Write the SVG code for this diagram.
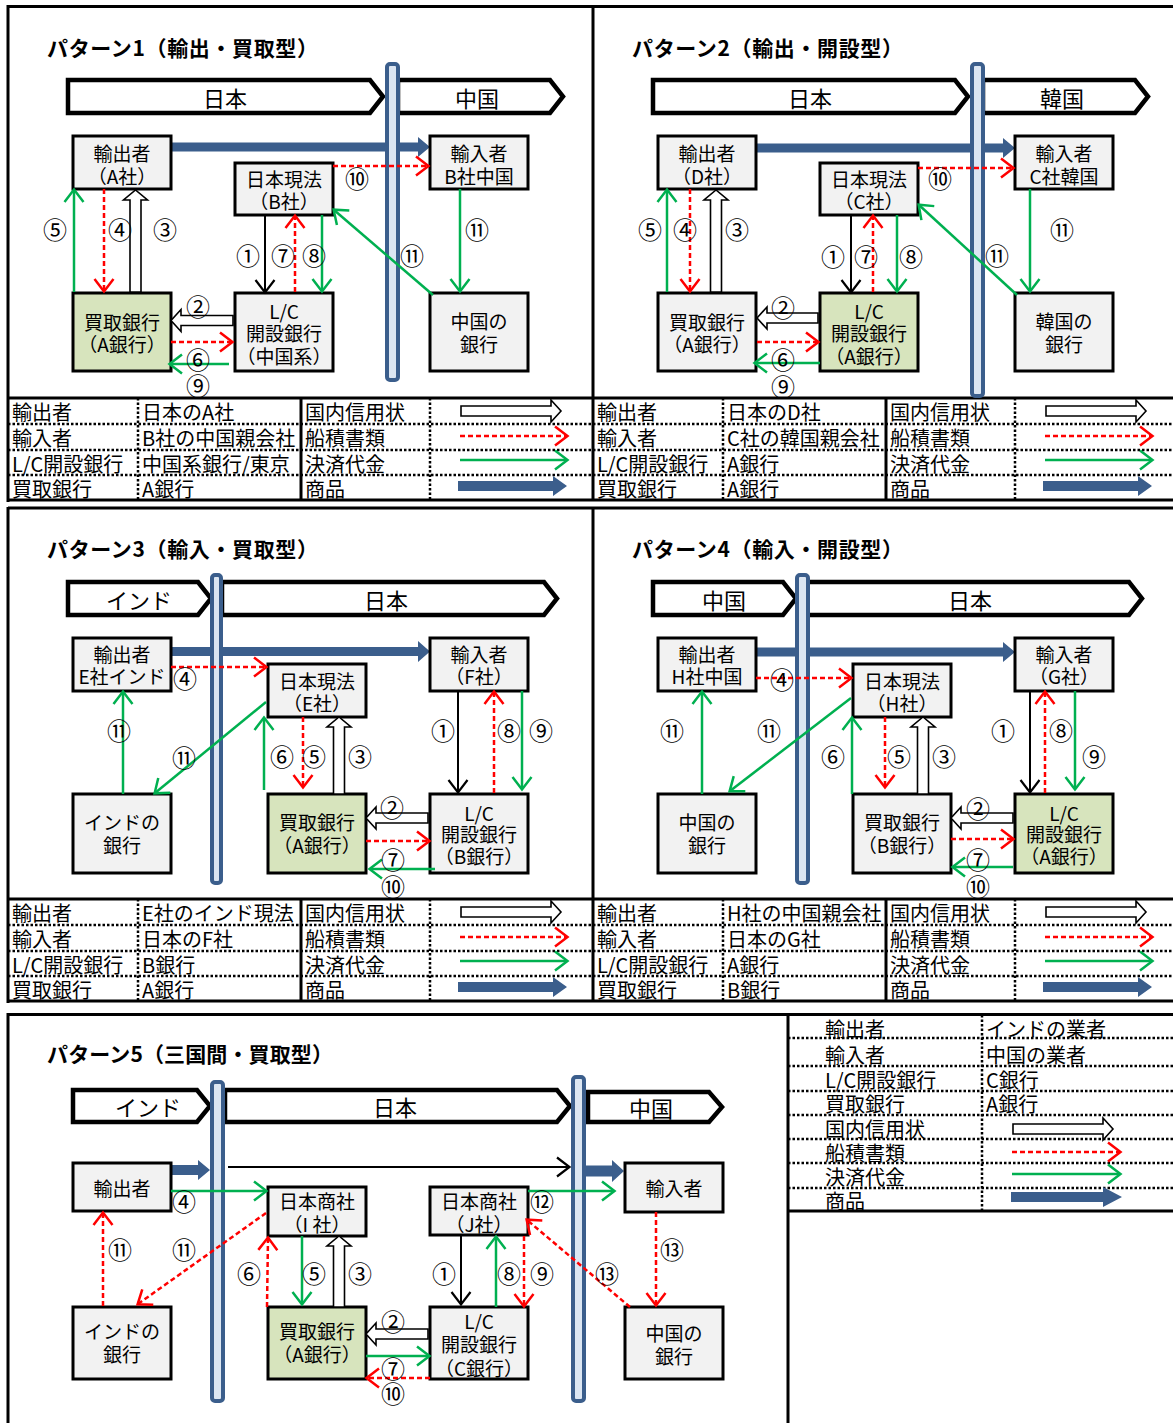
<svg xmlns="http://www.w3.org/2000/svg" width="1173" height="1423" viewBox="0 0 1173 1423">
<style>
.fr{stroke:#000;stroke-width:3;fill:none}
.dt{stroke:#000;stroke-width:2.5;stroke-dasharray:2.5 2;fill:none}
.box{fill:#F2F2F2;stroke:#000;stroke-width:3}
.boxg{fill:#D7E4BD;stroke:#000;stroke-width:3}
.bar{fill:#DCE6F2;stroke:#3B5E8C;stroke-width:4}
.ctry{fill:#fff;stroke:#000;stroke-width:4.5;stroke-linejoin:miter}
.gd{fill:#3B5E8C}
.wa{fill:#fff;stroke:#000;stroke-width:1.6}
.g{stroke:#00B050;stroke-width:2.5;fill:none;marker-end:url(#ag)}
.r{stroke:#FF0000;stroke-width:2.5;stroke-dasharray:5 3;fill:none;marker-end:url(#ar)}
.k{stroke:#000;stroke-width:2;fill:none;marker-end:url(#ak)}
text{font-family:"Noto Sans CJK JP","Liberation Sans",sans-serif;fill:#000;dominant-baseline:central}
.t{font-size:19px;text-anchor:middle}
.c{font-size:22px;text-anchor:middle}
.n{font-size:24px;text-anchor:middle}
.lg{font-size:20px}
.ttl{font-size:21px;font-weight:bold}
</style>
<defs>
<marker id="ag" markerUnits="userSpaceOnUse" markerWidth="20" markerHeight="24" refX="12" refY="9.5" orient="auto" overflow="visible"><path d="M0,0 L12.5,9.5 L0,19" fill="none" stroke="#00B050" stroke-width="2.5"/></marker>
<marker id="ar" markerUnits="userSpaceOnUse" markerWidth="20" markerHeight="24" refX="12" refY="9.5" orient="auto" overflow="visible"><path d="M0,0 L12.5,9.5 L0,19" fill="none" stroke="#FF0000" stroke-width="2.5"/></marker>
<marker id="ak" markerUnits="userSpaceOnUse" markerWidth="20" markerHeight="24" refX="12" refY="9.5" orient="auto" overflow="visible"><path d="M0,0 L12.5,9.5 L0,19" fill="none" stroke="#000" stroke-width="2.2"/></marker>
</defs>
<rect width="1173" height="1423" fill="#fff"/>

<g id="frames">
<line class="fr" x1="8" y1="6.5" x2="1180" y2="6.5"/>
<line class="fr" x1="8" y1="5" x2="8" y2="502"/>
<line class="fr" x1="593" y1="6.5" x2="593" y2="500"/>
<line class="fr" x1="8" y1="500" x2="1180" y2="500"/>
<line class="fr" x1="8" y1="398" x2="1180" y2="398"/>
<line class="dt" x1="8" y1="424" x2="1180" y2="424"/>
<line class="dt" x1="8" y1="450" x2="1180" y2="450"/>
<line class="dt" x1="8" y1="475" x2="1180" y2="475"/>
<line class="dt" x1="138" y1="398" x2="138" y2="500"/>
<line class="dt" x1="430" y1="398" x2="430" y2="500"/>
<line class="dt" x1="723" y1="398" x2="723" y2="500"/>
<line class="dt" x1="1015" y1="398" x2="1015" y2="500"/>
<line class="fr" x1="301" y1="398" x2="301" y2="500"/>
<line class="fr" x1="886" y1="398" x2="886" y2="500"/>

<line class="fr" x1="8" y1="508" x2="1180" y2="508"/>
<line class="fr" x1="8" y1="507" x2="8" y2="1003"/>
<line class="fr" x1="593" y1="508" x2="593" y2="1001"/>
<line class="fr" x1="8" y1="1001" x2="1180" y2="1001"/>
<line class="fr" x1="8" y1="899" x2="1180" y2="899"/>
<line class="dt" x1="8" y1="925" x2="1180" y2="925"/>
<line class="dt" x1="8" y1="951" x2="1180" y2="951"/>
<line class="dt" x1="8" y1="976" x2="1180" y2="976"/>
<line class="dt" x1="138" y1="899" x2="138" y2="1001"/>
<line class="dt" x1="430" y1="899" x2="430" y2="1001"/>
<line class="dt" x1="723" y1="899" x2="723" y2="1001"/>
<line class="dt" x1="1015" y1="899" x2="1015" y2="1001"/>
<line class="fr" x1="301" y1="899" x2="301" y2="1001"/>
<line class="fr" x1="886" y1="899" x2="886" y2="1001"/>

<line class="fr" x1="8" y1="1014.5" x2="1180" y2="1014.5"/>
<line class="fr" x1="8" y1="1013" x2="8" y2="1430"/>
<line class="fr" x1="788" y1="1014" x2="788" y2="1430"/>
<line class="fr" x1="788" y1="1211" x2="1180" y2="1211"/>
<line class="dt" x1="788" y1="1038" x2="1180" y2="1038"/>
<line class="dt" x1="788" y1="1066" x2="1180" y2="1066"/>
<line class="dt" x1="788" y1="1091" x2="1180" y2="1091"/>
<line class="dt" x1="788" y1="1115" x2="1180" y2="1115"/>
<line class="dt" x1="788" y1="1139" x2="1180" y2="1139"/>
<line class="dt" x1="788" y1="1163" x2="1180" y2="1163"/>
<line class="dt" x1="788" y1="1188" x2="1180" y2="1188"/>
<line class="dt" x1="982" y1="1015" x2="982" y2="1211"/>
</g>

<g id="titles">
<text class="ttl" x="47" y="47" textLength="271">パターン1（輸出・買取型）</text>
<text class="ttl" x="632" y="47" textLength="271">パターン2（輸出・開設型）</text>
<text class="ttl" x="47" y="548" textLength="271">パターン3（輸入・買取型）</text>
<text class="ttl" x="632" y="548" textLength="271">パターン4（輸入・開設型）</text>
<text class="ttl" x="47" y="1053" textLength="286">パターン5（三国間・買取型）</text>
</g>

<g id="countries">
<polygon class="ctry" points="68,80 370,80 383,96.5 370,113 68,113"/><text class="c" x="225" y="97">日本</text>
<polygon class="ctry" points="398,80 550,80 563,96.5 550,113 398,113"/><text class="c" x="477" y="97">中国</text>
<polygon class="ctry" points="653,80 955,80 968,96.5 955,113 653,113"/><text class="c" x="810" y="97">日本</text>
<polygon class="ctry" points="983,80 1135,80 1148,96.5 1135,113 983,113"/><text class="c" x="1062" y="97">韓国</text>
<polygon class="ctry" points="68,582 198,582 211,598.5 198,615 68,615"/><text class="c" x="139" y="599">インド</text>
<polygon class="ctry" points="222,582 544,582 557,598.5 544,615 222,615"/><text class="c" x="386" y="599">日本</text>
<polygon class="ctry" points="653,582 783,582 796,598.5 783,615 653,615"/><text class="c" x="724" y="599">中国</text>
<polygon class="ctry" points="807,582 1129,582 1142,598.5 1129,615 807,615"/><text class="c" x="970" y="599">日本</text>
<polygon class="ctry" points="73,1090 197,1090 210,1106 197,1122 73,1122"/><text class="c" x="148" y="1106">インド</text>
<polygon class="ctry" points="225,1090 557,1090 570,1106 557,1122 225,1122"/><text class="c" x="395" y="1106">日本</text>
<polygon class="ctry" points="588,1092 709,1092 722,1107 709,1122 588,1122"/><text class="c" x="651" y="1107">中国</text>
</g>

<g id="goods-connectors">
<polygon class="gd" points="170,142.5 418,142.5 418,137 430,147 418,157 418,151.5 170,151.5"/>
<polygon class="gd" points="756,143.5 1003,143.5 1003,138 1015,148 1003,158 1003,152.5 756,152.5"/>
<polygon class="gd" points="171,647 418,647 418,641 430,651.5 418,662 418,656 171,656"/>
<polygon class="gd" points="756,647.5 1003,647.5 1003,642 1015,652 1003,662 1003,656.5 756,656.5"/>
<polygon class="gd" points="168,1165 198,1165 198,1160 210,1170 198,1180 198,1175 168,1175"/>
<polygon class="gd" points="586,1165.5 612,1165.5 612,1160 624,1171 612,1182 612,1176.5 586,1176.5"/>
</g>

<g id="borders">
<rect class="bar" x="387" y="64" width="11" height="316" rx="3"/>
<rect class="bar" x="972" y="64" width="11" height="332" rx="3"/>
<rect class="bar" x="212" y="575" width="9" height="308" rx="3"/>
<rect class="bar" x="797" y="575" width="11" height="308" rx="3"/>
<rect class="bar" x="212" y="1082" width="11" height="319" rx="3"/>
<rect class="bar" x="573" y="1077" width="11" height="324" rx="3"/>
</g>

<!-- Pattern 1 nodes -->
<g id="p1-exporter"><rect class="box" x="73" y="136" width="98" height="53"/><text class="t" x="122" y="152">輸出者<tspan x="122" y="175">（A社）</tspan></text></g>
<g id="p1-subsidiary"><rect class="box" x="235" y="163" width="98" height="52"/><text class="t" x="284" y="178">日本現法<tspan x="284" y="200">（B社）</tspan></text></g>
<g id="p1-importer"><rect class="box" x="430" y="136" width="98" height="53"/><text class="t" x="479" y="152">輸入者<tspan x="479" y="175">B社中国</tspan></text></g>
<g id="p1-buying-bank"><rect class="boxg" x="73" y="293" width="98" height="78"/><text class="t" x="122" y="321">買取銀行<tspan x="122" y="343">（A銀行）</tspan></text></g>
<g id="p1-lc-bank"><rect class="box" x="235" y="293" width="98" height="78"/><text class="t" x="284" y="310">L/C<tspan x="284" y="332">開設銀行</tspan><tspan x="284" y="355">（中国系）</tspan></text></g>
<g id="p1-china-bank"><rect class="box" x="430" y="293" width="98" height="78"/><text class="t" x="479" y="320">中国の<tspan x="479" y="343">銀行</tspan></text></g>

<!-- Pattern 2 nodes -->
<g id="p2-exporter"><rect class="box" x="658" y="136" width="98" height="53"/><text class="t" x="707" y="152">輸出者<tspan x="707" y="175">（D社）</tspan></text></g>
<g id="p2-subsidiary"><rect class="box" x="820" y="163" width="98" height="52"/><text class="t" x="869" y="178">日本現法<tspan x="869" y="200">（C社）</tspan></text></g>
<g id="p2-importer"><rect class="box" x="1015" y="136" width="98" height="53"/><text class="t" x="1064" y="152">輸入者<tspan x="1064" y="175">C社韓国</tspan></text></g>
<g id="p2-buying-bank"><rect class="box" x="658" y="293" width="98" height="78"/><text class="t" x="707" y="321">買取銀行<tspan x="707" y="343">（A銀行）</tspan></text></g>
<g id="p2-lc-bank"><rect class="boxg" x="820" y="293" width="98" height="78"/><text class="t" x="869" y="310">L/C<tspan x="869" y="332">開設銀行</tspan><tspan x="869" y="355">（A銀行）</tspan></text></g>
<g id="p2-korea-bank"><rect class="box" x="1015" y="293" width="98" height="78"/><text class="t" x="1064" y="320">韓国の<tspan x="1064" y="343">銀行</tspan></text></g>

<!-- Pattern 3 nodes -->
<g id="p3-exporter"><rect class="box" x="73" y="638" width="98" height="53"/><text class="t" x="122" y="653">輸出者<tspan x="122" y="675">E社インド</tspan></text></g>
<g id="p3-subsidiary"><rect class="box" x="268" y="664" width="98" height="53"/><text class="t" x="317" y="680">日本現法<tspan x="317" y="702">（E社）</tspan></text></g>
<g id="p3-importer"><rect class="box" x="430" y="638" width="98" height="53"/><text class="t" x="479" y="653">輸入者<tspan x="479" y="675">（F社）</tspan></text></g>
<g id="p3-india-bank"><rect class="box" x="73" y="794" width="98" height="79"/><text class="t" x="122" y="821">インドの<tspan x="122" y="844">銀行</tspan></text></g>
<g id="p3-buying-bank"><rect class="boxg" x="268" y="794" width="98" height="79"/><text class="t" x="317" y="821">買取銀行<tspan x="317" y="844">（A銀行）</tspan></text></g>
<g id="p3-lc-bank"><rect class="box" x="430" y="794" width="98" height="79"/><text class="t" x="479" y="812">L/C<tspan x="479" y="833">開設銀行</tspan><tspan x="479" y="855">（B銀行）</tspan></text></g>

<!-- Pattern 4 nodes -->
<g id="p4-exporter"><rect class="box" x="658" y="638" width="98" height="53"/><text class="t" x="707" y="653">輸出者<tspan x="707" y="675">H社中国</tspan></text></g>
<g id="p4-subsidiary"><rect class="box" x="853" y="664" width="98" height="53"/><text class="t" x="902" y="680">日本現法<tspan x="902" y="702">（H社）</tspan></text></g>
<g id="p4-importer"><rect class="box" x="1015" y="638" width="98" height="53"/><text class="t" x="1064" y="653">輸入者<tspan x="1064" y="675">（G社）</tspan></text></g>
<g id="p4-china-bank"><rect class="box" x="658" y="794" width="98" height="79"/><text class="t" x="707" y="821">中国の<tspan x="707" y="844">銀行</tspan></text></g>
<g id="p4-buying-bank"><rect class="box" x="853" y="794" width="98" height="79"/><text class="t" x="902" y="821">買取銀行<tspan x="902" y="844">（B銀行）</tspan></text></g>
<g id="p4-lc-bank"><rect class="boxg" x="1015" y="794" width="98" height="79"/><text class="t" x="1064" y="812">L/C<tspan x="1064" y="833">開設銀行</tspan><tspan x="1064" y="855">（A銀行）</tspan></text></g>

<!-- Pattern 5 nodes -->
<g id="p5-exporter"><rect class="box" x="73" y="1163" width="98" height="48"/><text class="t" x="122" y="1187">輸出者</text></g>
<g id="p5-trading-i"><rect class="box" x="268" y="1187" width="98" height="49"/><text class="t" x="317" y="1200">日本商社<tspan x="317" y="1223">（I 社）</tspan></text></g>
<g id="p5-trading-j"><rect class="box" x="430" y="1187" width="98" height="48"/><text class="t" x="479" y="1200">日本商社<tspan x="479" y="1223">（J社）</tspan></text></g>
<g id="p5-importer"><rect class="box" x="625" y="1163" width="98" height="49"/><text class="t" x="674" y="1187">輸入者</text></g>
<g id="p5-india-bank"><rect class="box" x="73" y="1307" width="98" height="72"/><text class="t" x="122" y="1330">インドの<tspan x="122" y="1353">銀行</tspan></text></g>
<g id="p5-buying-bank"><rect class="boxg" x="268" y="1307" width="98" height="72"/><text class="t" x="317" y="1330">買取銀行<tspan x="317" y="1353">（A銀行）</tspan></text></g>
<g id="p5-lc-bank"><rect class="box" x="430" y="1307" width="98" height="72"/><text class="t" x="479" y="1320">L/C<tspan x="479" y="1343">開設銀行</tspan><tspan x="479" y="1367">（C銀行）</tspan></text></g>
<g id="p5-china-bank"><rect class="box" x="625" y="1307" width="98" height="72"/><text class="t" x="674" y="1332">中国の<tspan x="674" y="1355">銀行</tspan></text></g>

<g id="connectors">
<!-- P1 -->
<line class="r" x1="333" y1="166" x2="428" y2="166"/>
<line class="g" x1="74" y1="292" x2="74" y2="190"/>
<line class="r" x1="104" y1="189" x2="104" y2="291"/>
<polygon class="wa" points="130,292 130,200 123.5,200 135.5,190 147.5,200 141,200 141,292"/>
<line class="k" x1="265" y1="215" x2="265" y2="292"/>
<line class="r" x1="295" y1="292" x2="295" y2="216"/>
<line class="g" x1="322" y1="215" x2="322" y2="291"/>
<line class="g" x1="433" y1="295" x2="334" y2="210"/>
<line class="g" x1="460" y1="189" x2="460" y2="291"/>
<polygon class="wa" points="233,315.5 181,315.5 181,309.5 171,320.5 181,331.5 181,325.5 233,325.5"/>
<line class="r" x1="171" y1="342" x2="232" y2="342"/>
<line class="g" x1="229" y1="364" x2="170" y2="364"/>
<!-- P2 -->
<line class="r" x1="918" y1="168" x2="1013" y2="168"/>
<line class="g" x1="667" y1="292" x2="667" y2="190"/>
<line class="r" x1="690" y1="189" x2="690" y2="291"/>
<polygon class="wa" points="710.5,292 710.5,200 704,200 716,190 728,200 721.5,200 721.5,292"/>
<line class="k" x1="851" y1="215" x2="851" y2="292"/>
<line class="r" x1="873" y1="292" x2="873" y2="216"/>
<line class="g" x1="897" y1="215" x2="897" y2="291"/>
<line class="g" x1="1017" y1="295" x2="919" y2="205"/>
<line class="g" x1="1030" y1="189" x2="1030" y2="291"/>
<polygon class="wa" points="818,313 767,313 767,307 757,318 767,329 767,323 818,323"/>
<line class="r" x1="757" y1="342" x2="818" y2="342"/>
<line class="g" x1="820" y1="363" x2="755" y2="363"/>
<!-- P3 -->
<line class="r" x1="171" y1="667" x2="266" y2="667"/>
<line class="g" x1="123" y1="794" x2="123" y2="692"/>
<line class="g" x1="266" y1="702" x2="155" y2="793"/>
<line class="g" x1="264" y1="790" x2="264" y2="718"/>
<line class="r" x1="303" y1="717" x2="303" y2="787"/>
<polygon class="wa" points="333.5,794 333.5,727 327,727 339,717 351,727 344.5,727 344.5,794"/>
<line class="k" x1="458" y1="691" x2="458" y2="792"/>
<line class="r" x1="494" y1="793" x2="494" y2="692"/>
<line class="g" x1="522" y1="691" x2="522" y2="789"/>
<polygon class="wa" points="428,813 376,813 376,807 366,818 376,829 376,823 428,823"/>
<line class="r" x1="366" y1="841" x2="429" y2="841"/>
<line class="g" x1="435" y1="869" x2="370" y2="869"/>
<!-- P4 -->
<line class="r" x1="756" y1="678" x2="851" y2="678"/>
<line class="g" x1="702" y1="794" x2="702" y2="692"/>
<line class="g" x1="851" y1="698" x2="730" y2="791"/>
<line class="g" x1="852" y1="794" x2="852" y2="718"/>
<line class="r" x1="885" y1="717" x2="885" y2="787"/>
<polygon class="wa" points="917.5,794 917.5,727 911,727 923,717 935,727 928.5,727 928.5,794"/>
<line class="k" x1="1030" y1="691" x2="1030" y2="792"/>
<line class="r" x1="1045" y1="793" x2="1045" y2="692"/>
<line class="g" x1="1075" y1="691" x2="1075" y2="789"/>
<polygon class="wa" points="1013,813 961,813 961,807 951,818 961,829 961,823 1013,823"/>
<line class="r" x1="951" y1="839" x2="1013" y2="839"/>
<line class="g" x1="1013" y1="867" x2="953" y2="867"/>
<!-- P5 -->
<line class="k" x1="228" y1="1167" x2="569" y2="1167"/>
<line class="g" x1="171" y1="1191" x2="266" y2="1191"/>
<line class="r" x1="103" y1="1306" x2="103" y2="1213"/>
<line class="r" x1="266" y1="1213" x2="138" y2="1304"/>
<line class="r" x1="267" y1="1307" x2="268" y2="1238"/>
<line class="g" x1="302" y1="1236" x2="302" y2="1304"/>
<polygon class="wa" points="333.5,1307 333.5,1246 327,1246 339,1236 351,1246 344.5,1246 344.5,1307"/>
<line class="k" x1="461" y1="1236" x2="461" y2="1304"/>
<line class="g" x1="496" y1="1307" x2="496" y2="1237"/>
<line class="r" x1="524" y1="1236" x2="524" y2="1306"/>
<line class="g" x1="528" y1="1191" x2="614" y2="1191"/>
<line class="r" x1="630" y1="1307" x2="527" y2="1220"/>
<line class="r" x1="656" y1="1212" x2="656" y2="1305"/>
<polygon class="wa" points="428,1329 376,1329 376,1323 366,1334 376,1345 376,1339 428,1339"/>
<line class="g" x1="366" y1="1356" x2="429" y2="1356"/>
<line class="r" x1="430" y1="1378" x2="367" y2="1378"/>
</g>

<g id="step-labels">
<text class="n" x="55" y="228">⑤</text><text class="n" x="120" y="228">④</text><text class="n" x="165" y="228">③</text>
<text class="n" x="357" y="177">⑩</text><text class="n" x="248" y="254">①</text><text class="n" x="283" y="254">⑦</text><text class="n" x="314" y="254">⑧</text>
<text class="n" x="412" y="254">⑪</text><text class="n" x="477" y="228">⑪</text>
<text class="n" x="198" y="305">②</text><text class="n" x="198" y="358">⑥</text><text class="n" x="198" y="384">⑨</text>

<text class="n" x="650" y="228">⑤</text><text class="n" x="685" y="228">④</text><text class="n" x="737" y="228">③</text>
<text class="n" x="940" y="177">⑩</text><text class="n" x="833" y="255">①</text><text class="n" x="866" y="255">⑦</text><text class="n" x="911" y="255">⑧</text>
<text class="n" x="997" y="254">⑪</text><text class="n" x="1062" y="228">⑪</text>
<text class="n" x="783" y="306">②</text><text class="n" x="783" y="358">⑥</text><text class="n" x="783" y="385">⑨</text>

<text class="n" x="185" y="677">④</text><text class="n" x="119" y="729">⑪</text><text class="n" x="184" y="756">⑪</text>
<text class="n" x="282" y="755">⑥</text><text class="n" x="314" y="755">⑤</text><text class="n" x="360" y="755">③</text>
<text class="n" x="443" y="729">①</text><text class="n" x="509" y="729">⑧</text><text class="n" x="541" y="729">⑨</text>
<text class="n" x="392" y="806">②</text><text class="n" x="393" y="858">⑦</text><text class="n" x="393" y="885">⑩</text>

<text class="n" x="782" y="678">④</text><text class="n" x="672" y="729">⑪</text><text class="n" x="769" y="729">⑪</text>
<text class="n" x="833" y="755">⑥</text><text class="n" x="899" y="755">⑤</text><text class="n" x="944" y="755">③</text>
<text class="n" x="1003" y="729">①</text><text class="n" x="1061" y="729">⑧</text><text class="n" x="1094" y="755">⑨</text>
<text class="n" x="978" y="807">②</text><text class="n" x="978" y="858">⑦</text><text class="n" x="978" y="885">⑩</text>

<text class="n" x="184" y="1200">④</text><text class="n" x="120" y="1248">⑪</text><text class="n" x="184" y="1248">⑪</text>
<text class="n" x="249" y="1272">⑥</text><text class="n" x="314" y="1272">⑤</text><text class="n" x="360" y="1272">③</text>
<text class="n" x="444" y="1272">①</text><text class="n" x="509" y="1272">⑧</text><text class="n" x="542" y="1272">⑨</text>
<text class="n" x="542" y="1200">⑫</text><text class="n" x="607" y="1272">⑬</text><text class="n" x="672" y="1248">⑬</text>
<text class="n" x="393" y="1320">②</text><text class="n" x="393" y="1367">⑦</text><text class="n" x="393" y="1392">⑩</text>
</g>

<g id="legend-p1">
<text class="lg" x="12" y="411">輸出者<tspan x="12" y="437">輸入者</tspan><tspan x="12" y="463">L/C開設銀行</tspan><tspan x="12" y="488">買取銀行</tspan></text>
<text class="lg" x="142" y="411">日本のA社<tspan x="142" y="437">B社の中国親会社</tspan><tspan x="142" y="463">中国系銀行/東京</tspan><tspan x="142" y="488">A銀行</tspan></text>
<text class="lg" x="305" y="411">国内信用状<tspan x="305" y="437">船積書類</tspan><tspan x="305" y="463">決済代金</tspan><tspan x="305" y="488">商品</tspan></text>
<polygon class="wa" points="461,406 551,406 551,400 561,411 551,422 551,416 461,416"/>
<line class="r" x1="460" y1="436" x2="567" y2="436"/>
<line class="g" x1="460" y1="460" x2="567" y2="460"/>
<polygon class="gd" points="458,481 553,481 553,476 567,486 553,496 553,491 458,491"/>
</g>
<g id="legend-p2">
<text class="lg" x="597" y="411">輸出者<tspan x="597" y="437">輸入者</tspan><tspan x="597" y="463">L/C開設銀行</tspan><tspan x="597" y="488">買取銀行</tspan></text>
<text class="lg" x="727" y="411">日本のD社<tspan x="727" y="437">C社の韓国親会社</tspan><tspan x="727" y="463">A銀行</tspan><tspan x="727" y="488">A銀行</tspan></text>
<text class="lg" x="890" y="411">国内信用状<tspan x="890" y="437">船積書類</tspan><tspan x="890" y="463">決済代金</tspan><tspan x="890" y="488">商品</tspan></text>
<polygon class="wa" points="1046,406 1136,406 1136,400 1146,411 1136,422 1136,416 1046,416"/>
<line class="r" x1="1045" y1="436" x2="1152" y2="436"/>
<line class="g" x1="1045" y1="460" x2="1152" y2="460"/>
<polygon class="gd" points="1043,481 1138,481 1138,476 1152,486 1138,496 1138,491 1043,491"/>
</g>
<g id="legend-p3">
<text class="lg" x="12" y="912">輸出者<tspan x="12" y="938">輸入者</tspan><tspan x="12" y="964">L/C開設銀行</tspan><tspan x="12" y="989">買取銀行</tspan></text>
<text class="lg" x="142" y="912">E社のインド現法<tspan x="142" y="938">日本のF社</tspan><tspan x="142" y="964">B銀行</tspan><tspan x="142" y="989">A銀行</tspan></text>
<text class="lg" x="305" y="912">国内信用状<tspan x="305" y="938">船積書類</tspan><tspan x="305" y="964">決済代金</tspan><tspan x="305" y="989">商品</tspan></text>
<polygon class="wa" points="461,907 551,907 551,901 561,912 551,923 551,917 461,917"/>
<line class="r" x1="460" y1="937" x2="567" y2="937"/>
<line class="g" x1="460" y1="961" x2="567" y2="961"/>
<polygon class="gd" points="458,982 553,982 553,977 567,987 553,997 553,992 458,992"/>
</g>
<g id="legend-p4">
<text class="lg" x="597" y="912">輸出者<tspan x="597" y="938">輸入者</tspan><tspan x="597" y="964">L/C開設銀行</tspan><tspan x="597" y="989">買取銀行</tspan></text>
<text class="lg" x="727" y="912">H社の中国親会社<tspan x="727" y="938">日本のG社</tspan><tspan x="727" y="964">A銀行</tspan><tspan x="727" y="989">B銀行</tspan></text>
<text class="lg" x="890" y="912">国内信用状<tspan x="890" y="938">船積書類</tspan><tspan x="890" y="964">決済代金</tspan><tspan x="890" y="989">商品</tspan></text>
<polygon class="wa" points="1046,907 1136,907 1136,901 1146,912 1136,923 1136,917 1046,917"/>
<line class="r" x1="1045" y1="937" x2="1152" y2="937"/>
<line class="g" x1="1045" y1="961" x2="1152" y2="961"/>
<polygon class="gd" points="1043,982 1138,982 1138,977 1152,987 1138,997 1138,992 1043,992"/>
</g>
<g id="legend-p5">
<text class="lg" x="825" y="1028">輸出者<tspan x="825" y="1054">輸入者</tspan><tspan x="825" y="1079">L/C開設銀行</tspan><tspan x="825" y="1103">買取銀行</tspan><tspan x="825" y="1128">国内信用状</tspan><tspan x="825" y="1152">船積書類</tspan><tspan x="825" y="1176">決済代金</tspan><tspan x="825" y="1200">商品</tspan></text>
<text class="lg" x="986" y="1028">インドの業者<tspan x="986" y="1054">中国の業者</tspan><tspan x="986" y="1079">C銀行</tspan><tspan x="986" y="1103">A銀行</tspan></text>
<polygon class="wa" points="1013,1124 1103,1124 1103,1118 1113,1129 1103,1140 1103,1134 1013,1134"/>
<line class="r" x1="1012" y1="1152" x2="1120" y2="1152"/>
<line class="g" x1="1012" y1="1174" x2="1120" y2="1174"/>
<polygon class="gd" points="1011,1192 1103,1192 1103,1187 1122,1197 1103,1207 1103,1202 1011,1202"/>
</g>
</svg>
